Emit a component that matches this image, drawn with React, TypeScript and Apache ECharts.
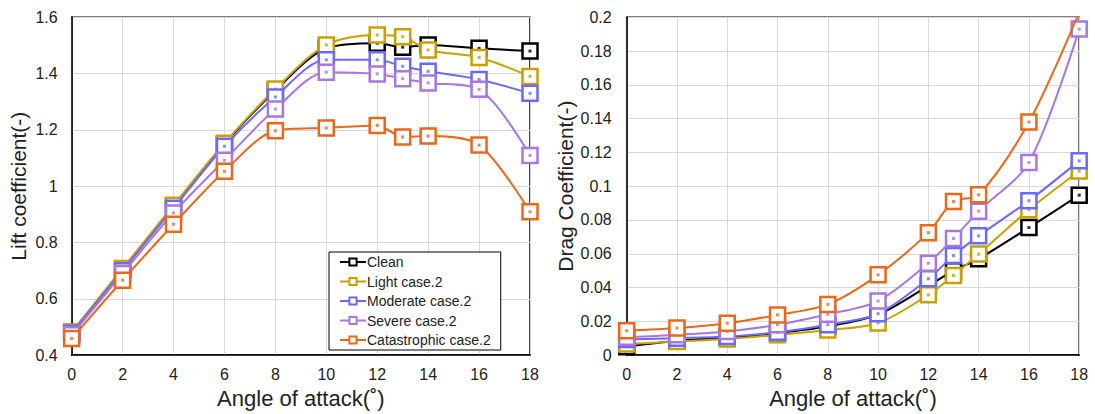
import React, { useEffect, useRef } from "react";
import * as echarts from "echarts";

// Angle of attack (degrees) shared by both panels
const angles = [0, 2, 4, 6, 8, 10, 12, 13, 14, 16, 18];

// Lift coefficient per icing case
const liftClean = [0.48, 0.705, 0.93, 1.15, 1.34, 1.49, 1.508, 1.494, 1.502, 1.49, 1.48];
const liftLight = [0.482, 0.708, 0.932, 1.153, 1.345, 1.502, 1.537, 1.531, 1.484, 1.457, 1.39];
const liftModerate = [0.478, 0.7, 0.922, 1.142, 1.317, 1.449, 1.449, 1.426, 1.408, 1.379, 1.33];
const liftSevere = [0.472, 0.69, 0.905, 1.092, 1.274, 1.405, 1.399, 1.382, 1.367, 1.344, 1.109];
const liftCatastrophic = [0.459, 0.666, 0.865, 1.053, 1.197, 1.207, 1.216, 1.175, 1.178, 1.146, 0.909];

// Drag coefficient per icing case
const dragClean = [0.005, 0.0085, 0.0105, 0.013, 0.017, 0.024, 0.041, 0.05, 0.057, 0.0755, 0.0947];
const dragLight = [0.0065, 0.008, 0.0095, 0.012, 0.0148, 0.019, 0.0357, 0.0472, 0.0598, 0.086, 0.109];
const dragModerate = [0.0092, 0.01, 0.011, 0.0135, 0.018, 0.0245, 0.0452, 0.0589, 0.0706, 0.0914, 0.115];
const dragSevere = [0.0105, 0.012, 0.014, 0.018, 0.0242, 0.032, 0.0544, 0.069, 0.0852, 0.114, 0.193];
const dragCatastrophic = [0.0144, 0.016, 0.0189, 0.0238, 0.03, 0.0475, 0.0725, 0.091, 0.0949, 0.138, 0.203];

const caseNames = ["Clean", "Light case.2", "Moderate case.2", "Severe case.2", "Catastrophic case.2"];
const caseColors = ["#000000", "#C9A000", "#6A6AFF", "#A877E0", "#E8681C"];
const liftSets = [liftClean, liftLight, liftModerate, liftSevere, liftCatastrophic];
const dragSets = [dragClean, dragLight, dragModerate, dragSevere, dragCatastrophic];

const FONT = "'Liberation Sans', Arial, sans-serif";
const TEXT = "#222";

function pairs(values: number[]) {
  return angles.map((a, i) => [a, values[i]]);
}

function buildSeries(sets: number[][], gridIndex: number, withLegend: boolean) {
  const out: any[] = [];
  sets.forEach((vals, i) => {
    const base = 2 + i * 2 + gridIndex * 20;
    out.push({
      type: "line",
      name: withLegend ? caseNames[i] : caseNames[i] + " ",
      xAxisIndex: gridIndex,
      yAxisIndex: gridIndex,
      data: pairs(vals),
      smooth: 0.3,
      clip: true,
      z: base,
      symbol: "rect",
      symbolSize: 15,
      showAllSymbol: true,
      lineStyle: { color: caseColors[i], width: 2 },
      itemStyle: { color: "#ffffff", borderColor: caseColors[i], borderWidth: 2.5 },
      emphasis: { disabled: true },
    });
    // small filled dot at the centre of every marker
    out.push({
      type: "scatter",
      xAxisIndex: gridIndex,
      yAxisIndex: gridIndex,
      data: pairs(vals),
      symbol: "rect",
      symbolSize: 3,
      z: base + 1,
      silent: true,
      itemStyle: { color: caseColors[i] },
      emphasis: { disabled: true },
    });
  });
  return out;
}

const axisLabel = { color: TEXT, fontSize: 16, fontFamily: FONT };
const nameStyle = { color: TEXT, fontSize: 21, fontFamily: FONT };
const xNameStyle = { color: TEXT, fontSize: 22, fontFamily: FONT };
const axisLine = { show: true, lineStyle: { color: "#000", width: 1.5 } };
const splitLine = { show: true, lineStyle: { color: "#d9d9d9", width: 1 } };

export default function App() {
  const ref = useRef<HTMLDivElement>(null);

  useEffect(() => {
    if (!ref.current) return;
    const chart = echarts.init(ref.current, undefined, { renderer: "svg" });
    chart.setOption({
      animation: false,
      backgroundColor: "#ffffff",
      textStyle: { fontFamily: FONT },
      grid: [
        { left: 71.7, top: 17.3, width: 458.3, height: 343.7, show: true, borderColor: "#000", borderWidth: 1.5 },
        { left: 626.7, top: 17.3, width: 452.5, height: 340.7, show: true, borderColor: "#000", borderWidth: 1.5 },
      ],
      legend: {
        data: caseNames,
        orient: "vertical",
        left: 329,
        top: 252,
        z: 100,
        backgroundColor: "#ffffff",
        borderColor: "#000",
        borderWidth: 1,
        padding: [3, 10, 3, 10],
        itemGap: 5.5,
        itemWidth: 26,
        itemHeight: 9,
        textStyle: { color: TEXT, fontSize: 14, fontFamily: FONT, padding: [0, 0, 0, -4] },
      },
      xAxis: [0, 1].map((g) => ({
        type: "value",
        gridIndex: g,
        min: 0,
        max: 18,
        interval: 2,
        name: "Angle of attack(˚)",
        nameLocation: "middle",
        nameGap: g === 0 ? 27 : 30,
        nameTextStyle: xNameStyle,
        axisLine,
        axisTick: { show: false },
        axisLabel: { ...axisLabel, margin: 11 },
        splitLine,
      })),
      yAxis: [
        {
          type: "value",
          gridIndex: 0,
          min: 0.4,
          max: 1.6,
          interval: 0.2,
          name: "Lift coefficient(-)",
          nameLocation: "middle",
          nameGap: 43,
          nameTextStyle: nameStyle,
          axisLine,
          axisTick: { show: false },
          axisLabel: { ...axisLabel, margin: 14 },
          splitLine,
        },
        {
          type: "value",
          gridIndex: 1,
          min: 0,
          max: 0.2,
          interval: 0.02,
          name: "Drag Coefficient(-)",
          nameLocation: "middle",
          nameGap: 51,
          nameTextStyle: nameStyle,
          axisLine,
          axisTick: { show: false },
          axisLabel: { ...axisLabel, margin: 15 },
          splitLine,
        },
      ],
      series: [...buildSeries(liftSets, 0, true), ...buildSeries(dragSets, 1, false)],
    });
    return () => chart.dispose();
  }, []);

  return (
    <div
      ref={ref}
      style={{ position: "absolute", left: 0, top: 0, width: 1095, height: 414 }}
    />
  );
}
